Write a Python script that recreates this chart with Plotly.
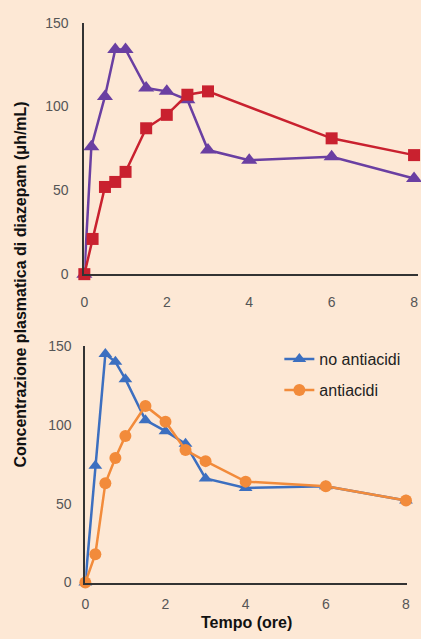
import plotly.graph_objects as go

# ---- data ----
top_t_triangle = [0, 0.17, 0.5, 0.75, 1, 1.5, 2, 2.5, 3, 4, 6, 8]
top_c_triangle = [0, 76, 106, 134, 134, 111, 109, 104, 74, 68, 70, 57]
top_t_square = [0, 0.2, 0.5, 0.75, 1, 1.5, 2, 2.5, 3, 6, 8]
top_c_square = [0, 21, 52, 55, 61, 87, 95, 107, 109, 81, 71]

bot_t = [0, 0.25, 0.5, 0.75, 1, 1.5, 2, 2.5, 3, 4, 6, 8]
no_antiacidi = [0, 74, 145, 140, 129, 103, 96, 88, 66, 60, 61, 52]
antiacidi = [0, 18, 63, 79, 93, 112, 102, 84, 77, 64, 61, 52]

x_ticks = [0, 2, 4, 6, 8]
y_ticks = [0, 50, 100, 150]

series_names = ["no antiacidi", "antiacidi"]
x_title = "Tempo (ore)"
y_title = "Concentrazione plasmatica di diazepam (μh/mL)"

W, H = 421, 639
BG = "#FDE8D5"
PURPLE = "#6A3FA2"
RED = "#C9212F"
BLUE = "#3C6FC0"
ORANGE = "#F28B3B"
AXIS = "#333333"
TICKC = "#555555"
FONT = "Liberation Sans, Arial, sans-serif"

def px_x(p):
    return p / W

def px_y(p):
    return 1 - p / H

fig = go.Figure()

fig.add_trace(go.Scatter(x=top_t_triangle, y=top_c_triangle, mode="lines+markers",
                         line=dict(color=PURPLE, width=2.5),
                         marker=dict(symbol="triangle-up", size=14, color=PURPLE),
                         cliponaxis=False, showlegend=False, xaxis="x", yaxis="y"))
fig.add_trace(go.Scatter(x=top_t_square, y=top_c_square, mode="lines+markers",
                         line=dict(color=RED, width=2.5),
                         marker=dict(symbol="square", size=12, color=RED),
                         cliponaxis=False, showlegend=False, xaxis="x", yaxis="y"))

fig.add_trace(go.Scatter(x=bot_t, y=no_antiacidi, mode="lines+markers", name=series_names[0],
                         line=dict(color=BLUE, width=2.5),
                         marker=dict(symbol="triangle-up", size=12, color=BLUE),
                         cliponaxis=False, legend="legend", xaxis="x2", yaxis="y2"))
fig.add_trace(go.Scatter(x=bot_t, y=antiacidi, mode="lines+markers", name=series_names[1],
                         line=dict(color=ORANGE, width=2.5),
                         marker=dict(symbol="circle", size=12, color=ORANGE),
                         cliponaxis=False, legend="legend2", xaxis="x2", yaxis="y2"))

# top axes: x 0 at px 81.7, 8 at px 417 (plot runs past right edge)
top_x0, top_x8 = 81.7, 417.0
top_scale = (top_x8 - top_x0) / 8
top_xmax = 8 + (W - top_x8) / top_scale

axis_common = dict(showgrid=False, zeroline=False, showline=True, linecolor=AXIS, linewidth=2,
                   ticks="", tickfont=dict(family=FONT, size=14, color=TICKC), fixedrange=True)

fig.update_layout(
    width=W, height=H,
    margin=dict(l=0, r=0, t=0, b=0),
    paper_bgcolor=BG, plot_bgcolor=BG,
    font=dict(family=FONT),
    xaxis=dict(domain=[px_x(top_x0), 1], range=[0, top_xmax], tickvals=x_ticks,
               anchor="y", ticklabelstandoff=14, **axis_common),
    yaxis=dict(domain=[px_y(273), px_y(15)], range=[0, 150], tickvals=y_ticks,
               anchor="x", ticklabelstandoff=11, **axis_common),
    xaxis2=dict(domain=[px_x(82.7), px_x(410)], range=[0, 8.03], tickvals=x_ticks,
                anchor="y2", ticklabelstandoff=8, **axis_common),
    yaxis2=dict(domain=[px_y(589.3), px_y(346.7)], range=[0, 150], tickvals=y_ticks,
                anchor="x2", ticklabelstandoff=9, **axis_common),
    legend=dict(x=px_x(280), y=px_y(360), xanchor="left", yanchor="middle",
                bgcolor="rgba(0,0,0,0)", itemwidth=30,
                font=dict(family=FONT, size=16, color="#222222")),
    legend2=dict(x=px_x(280), y=px_y(392), xanchor="left", yanchor="middle",
                 bgcolor="rgba(0,0,0,0)", itemwidth=30,
                 font=dict(family=FONT, size=16, color="#222222")),
    annotations=[
        dict(text="<b>" + x_title + "</b>", x=px_x(247), y=px_y(630), xref="paper", yref="paper",
             showarrow=False, font=dict(family=FONT, size=16, color="#111111"),
             xanchor="center", yanchor="middle"),
        dict(text="<b>" + y_title + "</b>", x=px_x(17), y=px_y(284), xref="paper", yref="paper",
             showarrow=False, textangle=-90, font=dict(family=FONT, size=16, color="#111111"),
             xanchor="center", yanchor="middle"),
    ],
)

fig.write_html("out.html", config={"displayModeBar": False},
               post_script="document.body.style.margin='0';document.body.style.padding='0';"
                           "document.documentElement.style.overflow='hidden';")
